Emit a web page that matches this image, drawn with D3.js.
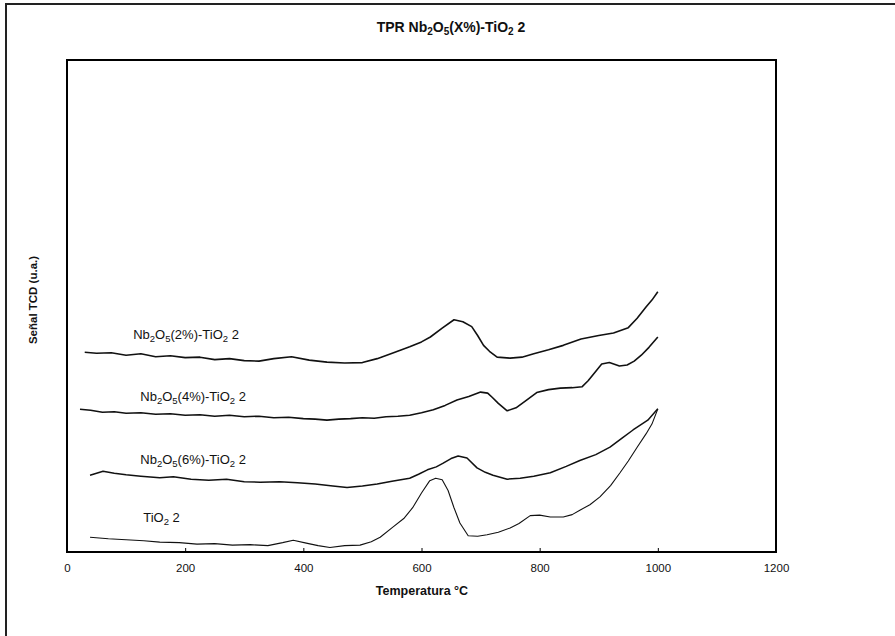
<!DOCTYPE html>
<html>
<head>
<meta charset="utf-8">
<script src="https://cdn.jsdelivr.net/npm/d3@7"></script>
<style>
  body { margin: 0; background: #fff; }
  text { font-family: "Liberation Sans", Arial, sans-serif; fill: #111; }
</style>
</head>
<body>
<script>
// Page size
var width = 895;
var height = 636;

// Plot box
var margin = { left: 67, right: 119, top: 60, bottom: 84 };

// Axis ticks
var xTicks = [0, 200, 400, 600, 800, 1000, 1200];

// Nb2O5(2%)-TiO2 2
var t2 = [30, 50, 75, 100, 125, 150, 175, 200, 225, 250, 275, 300, 325, 350, 380, 410, 440, 470, 500, 525,
          555, 580, 600, 615, 635, 655, 670, 685, 695, 705, 715, 728, 750, 770, 790, 815, 840, 870, 900, 925,
          950, 965, 980, 990, 1000];
var s2 = [40.6, 40.4, 40.5, 40.0, 40.3, 39.7, 39.9, 39.5, 39.6, 39.1, 39.3, 38.9, 38.8, 39.3, 39.7, 39.0, 38.6, 38.4, 38.5, 39.3,
          40.6, 41.7, 42.7, 43.7, 45.5, 47.2, 46.8, 45.8, 44.0, 42.0, 40.8, 39.6, 39.4, 39.6, 40.3, 41.1, 42.0, 43.3, 44.0, 44.5,
          45.6, 47.5, 49.8, 51.2, 52.9];

// Nb2O5(4%)-TiO2 2
var t4 = [22, 40, 60, 80, 100, 125, 150, 175, 200, 225, 250, 275, 300, 325, 350, 375, 400, 420, 440, 460,
          480, 500, 520, 540, 560, 580, 600, 620, 640, 660, 680, 700, 712, 720, 730, 745, 760, 775, 795, 815,
          835, 855, 872, 882, 892, 905, 918, 935, 948, 960, 972, 985, 1000];
var s4 = [29.0, 28.8, 28.4, 28.5, 28.2, 28.3, 28.0, 28.1, 27.8, 27.9, 27.6, 27.8, 27.5, 27.6, 27.3, 27.4, 27.1, 27.0, 26.8, 27.0,
          27.1, 27.3, 27.2, 27.5, 27.6, 27.8, 28.3, 28.9, 29.8, 30.9, 31.6, 32.5, 32.3, 31.4, 30.2, 28.7, 29.3, 30.6, 32.4, 33.0,
          33.3, 33.4, 33.6, 34.8, 36.3, 38.2, 38.5, 37.8, 38.0, 38.8, 40.0, 41.6, 43.7];

// Nb2O5(6%)-TiO2 2
var t6 = [39, 50, 61, 80, 100, 125, 157, 180, 210, 240, 270, 300, 327, 360, 390, 420, 450, 474, 500, 525,
          550, 580, 595, 610, 625, 636, 650, 662, 677, 694, 708, 721, 745, 767, 790, 818, 845, 868, 895, 919,
          940, 958, 983, 1000];
var s6 = [15.6, 16.0, 16.4, 16.0, 15.7, 15.4, 15.1, 15.3, 14.8, 14.6, 14.8, 14.3, 14.2, 14.3, 14.1, 13.8, 13.4, 13.1, 13.4, 13.8,
          14.4, 15.0, 15.8, 16.7, 17.3, 18.0, 19.0, 19.5, 19.1, 17.1, 16.2, 15.6, 14.8, 15.0, 15.4, 16.1, 17.4, 18.6, 19.8, 21.3,
          23.2, 24.8, 26.8, 29.1];

// TiO2 2
var t0 = [39, 70, 100, 130, 157, 190, 220, 250, 280, 310, 340, 365, 383, 405, 425, 445, 470, 496, 515, 530,
          552, 570, 585, 600, 614, 624, 635, 645, 655, 665, 679, 695, 711, 730, 750, 765, 784, 800, 818, 840,
          855, 868, 885, 902, 920, 936, 950, 965, 980, 990, 1000];
var s0 = [3.0, 2.7, 2.5, 2.3, 2.0, 1.9, 1.6, 1.7, 1.4, 1.5, 1.3, 1.9, 2.4, 1.8, 1.3, 0.9, 1.3, 1.4, 2.1, 3.0,
          5.1, 6.8, 9.0, 12.0, 14.5, 15.0, 14.7, 12.5, 9.0, 5.9, 3.3, 3.2, 3.5, 4.0, 4.9, 5.8, 7.4, 7.5, 7.1, 7.1,
          7.6, 8.5, 9.6, 11.2, 13.5, 16.1, 18.5, 21.3, 24.0, 26.0, 29.1];

// Series labels, drawn inside the plot: alternating normal / subscript parts
var series = [
  { t: t2, s: s2, w: 1.6, label: ["Nb", "2", "O", "5", "(2%)-TiO", "2", " 2"], lx: 112, ly: 39.6 },
  { t: t4, s: s4, w: 1.6, label: ["Nb", "2", "O", "5", "(4%)-TiO", "2", " 2"], lx: 124, ly: 27.0 },
  { t: t6, s: s6, w: 1.5, label: ["Nb", "2", "O", "5", "(6%)-TiO", "2", " 2"], lx: 124, ly: 14.2 },
  { t: t0, s: s0, w: 1.1, label: ["TiO", "2", " 2"], lx: 129, ly: 2.4 }
];

var svg = d3.select("body")
    .append("svg")
    .attr("width", width)
    .attr("height", height);

// outer frame left by the scan
svg.append("path")
    .attr("d", "M6,636 L6,4 L895,4")
    .attr("fill", "none")
    .attr("stroke", "#222")
    .attr("stroke-width", 2);

var x = d3.scaleLinear()
    .domain([0, 1200])
    .range([margin.left, width - margin.right]);

var y = d3.scaleLinear()
    .domain([0, 100])
    .range([height - margin.bottom, margin.top]);

// plot box
svg.append("rect")
    .attr("x", margin.left)
    .attr("y", margin.top)
    .attr("width", width - margin.left - margin.right)
    .attr("height", height - margin.top - margin.bottom)
    .attr("fill", "none")
    .attr("stroke", "#000")
    .attr("stroke-width", 2);

// x axis
var xAxis = svg.append("g")
    .attr("transform", "translate(0," + (height - margin.bottom) + ")")
    .call(d3.axisBottom(x).tickValues(xTicks).tickSize(-4).tickPadding(12).tickFormat(d3.format("d")));
xAxis.select(".domain").remove();
xAxis.selectAll(".tick line").attr("stroke", "#000");
xAxis.selectAll("text")
    .style("font-size", "11.5px")
    .attr("fill", "#111");

// writes alternating normal / subscript parts into a text element
function subText(el, parts, size, subSize) {
  parts.forEach(function (part, i) {
    var isSub = (i % 2 === 1);
    el.append("tspan")
        .attr("dy", isSub ? 3 : (i === 0 ? 0 : -3))
        .style("font-size", isSub ? subSize : size)
        .text(part);
  });
}

// curves
var line = d3.line()
    .x(function (d) { return x(d[0]); })
    .y(function (d) { return y(d[1]); });

series.forEach(function (sr) {
  var pts = sr.t.map(function (t, i) { return [t, sr.s[i]]; });
  svg.append("path")
      .attr("d", line(pts))
      .attr("fill", "none")
      .attr("stroke", "#111")
      .attr("stroke-width", sr.w)
      .attr("stroke-linejoin", "round");

  var txt = svg.append("text")
      .attr("x", x(sr.lx))
      .attr("y", y(sr.ly) - 18);
  subText(txt, sr.label, "13px", "9.5px");
});

// title
var title = svg.append("text")
    .attr("x", 451)
    .attr("y", 32)
    .attr("text-anchor", "middle")
    .style("font-weight", "bold");
subText(title, ["TPR Nb", "2", "O", "5", "(X%)-TiO", "2", " 2"], "14px", "10px");

// axis titles
svg.append("text")
    .attr("x", 422)
    .attr("y", 595)
    .attr("text-anchor", "middle")
    .style("font-size", "12.5px")
    .style("font-weight", "bold")
    .text("Temperatura °C");

svg.append("text")
    .attr("transform", "translate(37,300) rotate(-90)")
    .attr("text-anchor", "middle")
    .style("font-size", "11.5px")
    .style("font-weight", "bold")
    .text("Señal TCD (u.a.)");
</script>
</body>
</html>
